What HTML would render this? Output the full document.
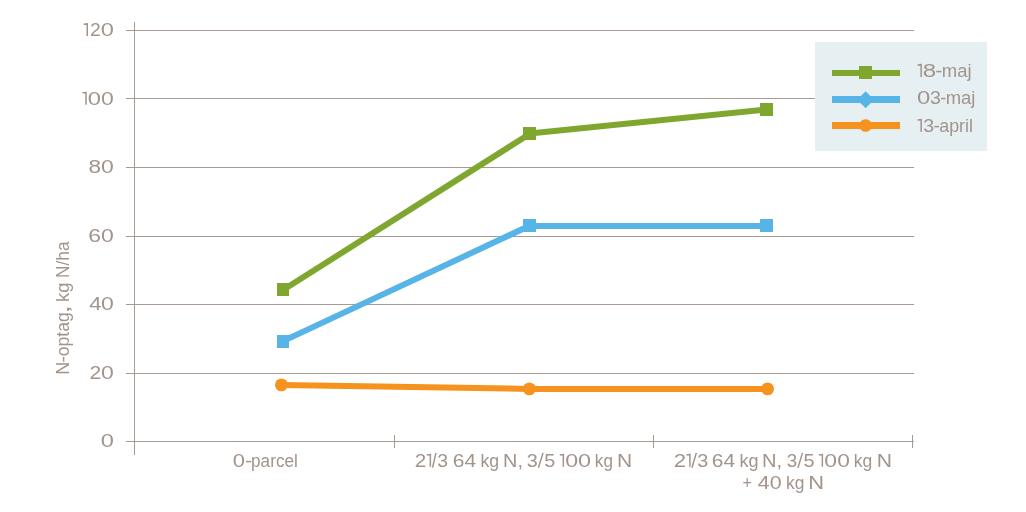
<!DOCTYPE html>
<html>
<head>
<meta charset="utf-8">
<title>N-optag</title>
<style>
  html, body { margin: 0; padding: 0; background: #ffffff; }
  body { width: 1026px; height: 512px; overflow: hidden; }
  svg { display: block; will-change: transform; }
  text { font-family: "Liberation Sans", sans-serif; font-size: 17.5px; fill: #a2948b; }
</style>
</head>
<body>
<svg width="1026" height="512" viewBox="0 0 1026 512">
  <rect x="0" y="0" width="1026" height="512" fill="#ffffff"/>

  <!-- gridlines, axis, ticks -->
  <g fill="#a79a92" shape-rendering="crispEdges">
    <rect x="126" y="30" width="788" height="1"/>
    <rect x="126" y="98" width="788" height="1"/>
    <rect x="126" y="167" width="788" height="1"/>
    <rect x="126" y="236" width="788" height="1"/>
    <rect x="126" y="304" width="788" height="1"/>
    <rect x="126" y="373" width="788" height="1"/>
    <rect x="126" y="441" width="788" height="1"/>
    <rect x="134" y="22" width="1" height="433"/>
    <rect x="394" y="435" width="1" height="13"/>
    <rect x="653" y="435" width="1" height="13"/>
    <rect x="912" y="435" width="1" height="13"/>
  </g>
  <!-- y tick labels -->
  <g>
    <path d="M83.70,24.25 L87.25,23.90 L87.25,36.10" fill="none" stroke="#a2948b" stroke-width="1.5" stroke-linejoin="miter"/>
    <text x="90.03" y="36.1" textLength="10.74" lengthAdjust="spacingAndGlyphs">2</text>
    <text x="100.78" y="36.1" textLength="13.15" lengthAdjust="spacingAndGlyphs">0</text>
    <path d="M82.50,92.85 L86.05,92.50 L86.05,104.70" fill="none" stroke="#a2948b" stroke-width="1.5" stroke-linejoin="miter"/>
    <text x="87.82" y="104.7" textLength="13.20" lengthAdjust="spacingAndGlyphs">0</text>
    <text x="101.10" y="104.7" textLength="12.80" lengthAdjust="spacingAndGlyphs">0</text>
    <text x="88.52" y="172.8" textLength="12.56" lengthAdjust="spacingAndGlyphs">8</text>
    <text x="101.10" y="172.8" textLength="12.80" lengthAdjust="spacingAndGlyphs">0</text>
    <text x="88.33" y="241.7" textLength="12.78" lengthAdjust="spacingAndGlyphs">6</text>
    <text x="101.10" y="241.7" textLength="12.80" lengthAdjust="spacingAndGlyphs">0</text>
    <text x="89.29" y="309.8" textLength="12.25" lengthAdjust="spacingAndGlyphs">4</text>
    <text x="101.10" y="309.8" textLength="12.80" lengthAdjust="spacingAndGlyphs">0</text>
    <text x="89.44" y="378.7" textLength="11.72" lengthAdjust="spacingAndGlyphs">2</text>
    <text x="101.10" y="378.7" textLength="12.80" lengthAdjust="spacingAndGlyphs">0</text>
    <text x="100.78" y="446.9" textLength="13.15" lengthAdjust="spacingAndGlyphs">0</text>
  </g>
  <!-- y axis title -->
  <g transform="translate(68.6,373.4) rotate(-90)">
    <text x="-1.48" y="0" textLength="13.06" lengthAdjust="spacingAndGlyphs">N</text>
    <text x="10.84" y="0" textLength="6.41" lengthAdjust="spacingAndGlyphs">-</text>
    <text x="17.16" y="0" textLength="44.07" lengthAdjust="spacingAndGlyphs">optag</text>
    <text x="59.66" y="0" textLength="8.78" lengthAdjust="spacingAndGlyphs">,</text>
    <text x="71.35" y="0" textLength="19.54" lengthAdjust="spacingAndGlyphs">kg</text>
    <text x="95.38" y="0" textLength="36.52" lengthAdjust="spacingAndGlyphs">N/ha</text>
  </g>
  <!-- x labels -->
  <g>
    <text x="232.84" y="466.8" textLength="12.22" lengthAdjust="spacingAndGlyphs">0</text>
    <text x="244.93" y="466.8" textLength="7.30" lengthAdjust="spacingAndGlyphs">-</text>
    <text x="251.09" y="466.8" textLength="46.75" lengthAdjust="spacingAndGlyphs">parcel</text>
    <text x="414.86" y="466.8" textLength="11.48" lengthAdjust="spacingAndGlyphs">2</text>
    <path d="M426.80,454.95 L430.35,454.60 L430.35,466.80" fill="none" stroke="#a2948b" stroke-width="1.5" stroke-linejoin="miter"/>
    <line x1="432.55" y1="467.70" x2="435.95" y2="452.90" stroke="#a2948b" stroke-width="1.5"/>
    <text x="437.26" y="466.8" textLength="10.79" lengthAdjust="spacingAndGlyphs">3</text>
    <text x="452.84" y="466.8" textLength="23.28" lengthAdjust="spacingAndGlyphs">64</text>
    <text x="480.40" y="466.8" textLength="18.74" lengthAdjust="spacingAndGlyphs">kg</text>
    <text x="503.08" y="466.8" textLength="19.80" lengthAdjust="spacingAndGlyphs">N,</text>
    <text x="526.84" y="466.8" textLength="11.03" lengthAdjust="spacingAndGlyphs">3</text>
    <line x1="538.45" y1="467.70" x2="543.05" y2="452.90" stroke="#a2948b" stroke-width="1.5"/>
    <text x="544.31" y="466.8" textLength="11.03" lengthAdjust="spacingAndGlyphs">5</text>
    <path d="M559.80,454.95 L563.35,454.60 L563.35,466.80" fill="none" stroke="#a2948b" stroke-width="1.5" stroke-linejoin="miter"/>
    <text x="565.29" y="466.8" textLength="12.91" lengthAdjust="spacingAndGlyphs">0</text>
    <text x="578.08" y="466.8" textLength="13.03" lengthAdjust="spacingAndGlyphs">0</text>
    <text x="594.85" y="466.8" textLength="18.05" lengthAdjust="spacingAndGlyphs">kg</text>
    <text x="617.08" y="466.8" textLength="15.13" lengthAdjust="spacingAndGlyphs">N</text>
    <text x="673.78" y="466.8" textLength="12.33" lengthAdjust="spacingAndGlyphs">2</text>
    <path d="M686.40,454.95 L689.95,454.60 L689.95,466.80" fill="none" stroke="#a2948b" stroke-width="1.5" stroke-linejoin="miter"/>
    <line x1="691.95" y1="467.70" x2="696.35" y2="452.90" stroke="#a2948b" stroke-width="1.5"/>
    <text x="697.24" y="466.8" textLength="11.03" lengthAdjust="spacingAndGlyphs">3</text>
    <text x="711.84" y="466.8" textLength="23.28" lengthAdjust="spacingAndGlyphs">64</text>
    <text x="739.58" y="466.8" textLength="19.08" lengthAdjust="spacingAndGlyphs">kg</text>
    <text x="761.96" y="466.8" textLength="20.05" lengthAdjust="spacingAndGlyphs">N,</text>
    <text x="786.89" y="466.8" textLength="10.44" lengthAdjust="spacingAndGlyphs">3</text>
    <line x1="797.95" y1="467.70" x2="802.55" y2="452.90" stroke="#a2948b" stroke-width="1.5"/>
    <text x="803.41" y="466.8" textLength="11.03" lengthAdjust="spacingAndGlyphs">5</text>
    <path d="M818.80,454.95 L822.35,454.60 L822.35,466.80" fill="none" stroke="#a2948b" stroke-width="1.5" stroke-linejoin="miter"/>
    <text x="824.30" y="466.8" textLength="12.80" lengthAdjust="spacingAndGlyphs">0</text>
    <text x="837.21" y="466.8" textLength="12.68" lengthAdjust="spacingAndGlyphs">0</text>
    <text x="853.82" y="466.8" textLength="18.51" lengthAdjust="spacingAndGlyphs">kg</text>
    <text x="876.87" y="466.8" textLength="15.26" lengthAdjust="spacingAndGlyphs">N</text>
    <text x="742.42" y="488.7" textLength="9.38" lengthAdjust="spacingAndGlyphs">+</text>
    <text x="757.81" y="488.7" textLength="23.83" lengthAdjust="spacingAndGlyphs">40</text>
    <text x="785.93" y="488.7" textLength="18.40" lengthAdjust="spacingAndGlyphs">kg</text>
    <text x="808.31" y="488.7" textLength="15.77" lengthAdjust="spacingAndGlyphs">N</text>
  </g>
  <!-- series: 13-april (orange) -->
  <g fill="#f6921e">
    <polyline points="281.4,384.9 529.4,388.9 767.6,388.9" fill="none" stroke="#f6921e" stroke-width="6" stroke-linejoin="round"/>
    <circle cx="281.4" cy="384.9" r="6.4"/>
    <circle cx="529.4" cy="388.9" r="6.4"/>
    <circle cx="767.6" cy="388.9" r="6.4"/>
  </g>
  <!-- series: 03-maj (blue) -->
  <g fill="#56b4e6">
    <line x1="283" y1="341.1" x2="529.5" y2="225.8" stroke="#56b4e6" stroke-width="6"/>
    <line x1="529.5" y1="225.9" x2="766.5" y2="225.9" stroke="#56b4e6" stroke-width="6"/>
    <rect x="277" y="335" width="12" height="13"/>
    <rect x="523" y="219" width="13" height="13"/>
    <rect x="760" y="219" width="13" height="13"/>
  </g>
  <!-- series: 18-maj (green) -->
  <g fill="#7fa72f">
    <line x1="283" y1="290.0" x2="529.5" y2="134.0" stroke="#7fa72f" stroke-width="6"/>
    <line x1="529.5" y1="133.4" x2="766.5" y2="109.5" stroke="#7fa72f" stroke-width="6"/>
    <rect x="277" y="283" width="12" height="13"/>
    <rect x="523" y="127" width="13" height="13"/>
    <rect x="760" y="103" width="13" height="13"/>
  </g>
  <!-- legend -->
  <g>
    <rect x="815" y="42" width="172" height="109" fill="#e6eff1"/>
    <rect x="832" y="70" width="68" height="6" fill="#7fa72f"/>
    <rect x="859" y="66" width="13" height="13" fill="#7fa72f"/>
    <rect x="832" y="96" width="68" height="7" fill="#56b4e6"/>
    <polygon points="865.6,91.15 874.0,99.65 865.6,108.15 857.2,99.65" fill="#56b4e6"/>
    <rect x="832" y="122" width="68" height="7" fill="#f6921e"/>
    <circle cx="865.6" cy="125.5" r="6.35" fill="#f6921e"/>
    <path d="M917.60,65.05 L921.15,64.70 L921.15,76.90" fill="none" stroke="#a2948b" stroke-width="1.5" stroke-linejoin="miter"/>
    <text x="922.85" y="76.9" textLength="13.39" lengthAdjust="spacingAndGlyphs">8</text>
    <text x="935.35" y="76.9" textLength="7.09" lengthAdjust="spacingAndGlyphs">-</text>
    <text x="941.77" y="76.9" textLength="29.77" lengthAdjust="spacingAndGlyphs">maj</text>
    <text x="916.97" y="103.9" textLength="13.26" lengthAdjust="spacingAndGlyphs">0</text>
    <text x="930.05" y="103.9" textLength="10.91" lengthAdjust="spacingAndGlyphs">3</text>
    <text x="940.20" y="103.9" textLength="6.00" lengthAdjust="spacingAndGlyphs">-</text>
    <text x="945.67" y="103.9" textLength="29.77" lengthAdjust="spacingAndGlyphs">maj</text>
    <path d="M917.60,120.05 L921.15,119.70 L921.15,131.90" fill="none" stroke="#a2948b" stroke-width="1.5" stroke-linejoin="miter"/>
    <text x="923.15" y="131.9" textLength="10.91" lengthAdjust="spacingAndGlyphs">3</text>
    <text x="933.56" y="131.9" textLength="6.27" lengthAdjust="spacingAndGlyphs">-</text>
    <text x="939.24" y="131.9" textLength="33.75" lengthAdjust="spacingAndGlyphs">april</text>
  </g>
</svg>
</body>
</html>
